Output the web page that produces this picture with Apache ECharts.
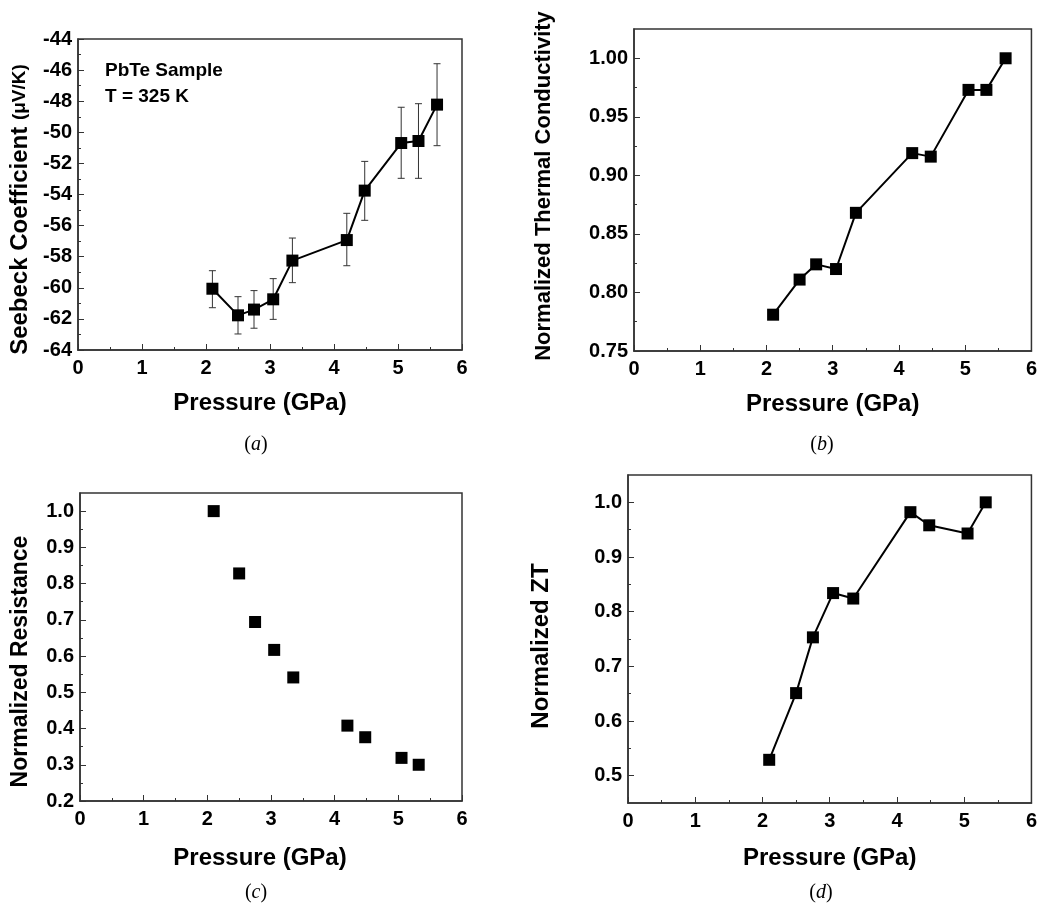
<!DOCTYPE html>
<html>
<head>
<meta charset="utf-8">
<script src="https://cdn.jsdelivr.net/npm/echarts@6/dist/echarts.min.js"></script>
<style>
html, body { margin: 0; background: #fff; }
#main { width: 1040px; height: 904px; }
</style>
</head>
<body>
<div id="main"></div>
<script>
// pressure in GPa, shared by all four panels (c and d stop at 5.32)
var pressure = [2.1, 2.5, 2.75, 3.05, 3.35, 4.2, 4.48, 5.05, 5.32, 5.61]

// (a) Seebeck coefficient with error bars
var seebeck = [-60.06, -61.77, -61.4, -60.74, -58.25, -56.93, -53.75, -50.69, -50.56, -48.22]
var seebeckLow = [-61.28, -62.97, -62.6, -62.03, -59.67, -58.58, -55.66, -52.96, -52.96, -50.86]
var seebeckHigh = [-58.9, -60.57, -60.18, -59.41, -56.8, -55.21, -51.87, -48.39, -48.16, -45.59]

// (b) normalized thermal conductivity
var thermal = [0.781, 0.811, 0.824, 0.820, 0.868, 0.919, 0.916, 0.973, 0.973, 1.0]

// (c) normalized resistance
var resistance = [1.0, 0.828, 0.694, 0.617, 0.541, 0.408, 0.376, 0.319, 0.300]

// (d) normalized ZT
var zt = [0.529, 0.651, 0.753, 0.834, 0.824, 0.982, 0.958, 0.943, 1.0]

// tick values
var thermalTicks = [0.75, 0.80, 0.85, 0.90, 0.95, 1.00]
var thermalMinor = [0.775, 0.825, 0.875, 0.925, 0.975]
var resistanceTicks = [0.2, 0.3, 0.4, 0.5, 0.6, 0.7, 0.8, 0.9, 1.0]
var resistanceMinor = [0.25, 0.35, 0.45, 0.55, 0.65, 0.75, 0.85, 0.95]
var ztTicks = [0.5, 0.6, 0.7, 0.8, 0.9, 1.0]
var ztMinor = [0.55, 0.65, 0.75, 0.85, 0.95]

var font = '"Liberation Sans", Arial, sans-serif'
var axisColor = '#333'

function pts (ys) {
  return ys.map(function (y, i) { return [pressure[i], y] })
}

function xAx (grid, gap, pad) {
  return {
    gridIndex: grid, type: 'value', min: 0, max: 6, interval: 1,
    name: 'Pressure (GPa)', nameLocation: 'middle', nameGap: gap,
    nameTextStyle: { fontSize: 24, fontWeight: 'bold', color: '#000', fontFamily: font, padding: pad },
    axisLine: { show: true, lineStyle: { color: axisColor, width: 1.5 } },
    axisTick: { inside: true, length: 6, lineStyle: { color: axisColor } },
    minorTick: { show: true, splitNumber: 2, length: 3, lineStyle: { color: axisColor } },
    axisLabel: { fontSize: 20, fontWeight: 'bold', color: '#000', margin: 8, fontFamily: font },
    splitLine: { show: false }
  }
}

function yAx (grid, min, max, ticks, digits, name, size, gap, pad) {
  return {
    gridIndex: grid, type: 'value', position: 'left', min: min, max: max,
    name: name, nameLocation: 'middle', nameGap: gap,
    nameTextStyle: { fontSize: size, fontWeight: 'bold', color: '#000', fontFamily: font, padding: pad },
    axisLine: { show: true, lineStyle: { color: axisColor, width: 1.5 } },
    axisTick: { inside: true, length: 6, customValues: ticks, lineStyle: { color: axisColor } },
    axisLabel: {
      customValues: ticks, fontSize: 20, fontWeight: 'bold', color: '#000', margin: 6, fontFamily: font,
      formatter: function (v) { return v.toFixed(digits) }
    },
    splitLine: { show: false }
  }
}

function yMinor (grid, min, max, minor) {
  return {
    gridIndex: grid, type: 'value', position: 'left', min: min, max: max,
    axisLine: { show: false },
    axisTick: { inside: true, length: 3, customValues: minor, lineStyle: { color: axisColor } },
    axisLabel: { show: false },
    splitLine: { show: false }
  }
}

function grid (left, top, width, height) {
  return { left: left, top: top, width: width, height: height, show: true, borderColor: axisColor, borderWidth: 1.5, backgroundColor: 'transparent' }
}

function lineSeries (xi, yi, data, withLine) {
  return {
    type: withLine ? 'line' : 'scatter', xAxisIndex: xi, yAxisIndex: yi, data: data,
    symbol: 'rect', symbolSize: 12, z: 3,
    itemStyle: { color: '#000', opacity: 1 },
    lineStyle: { color: '#000', width: 2 }
  }
}

function panelLabel (letter, x, y) {
  return {
    type: 'text', x: x, y: y,
    style: {
      text: '({i|' + letter + '})', fill: '#000', fontFamily: '"Liberation Serif", serif', fontSize: 20,
      align: 'center', verticalAlign: 'middle',
      rich: { i: { fontStyle: 'italic', fontFamily: '"Liberation Serif", serif', fontSize: 20 } }
    }
  }
}

var myChart = echarts.init(document.getElementById('main'))

var option = {
  animation: false,
  backgroundColor: '#fff',
  grid: [
    grid(78, 39, 384, 311),
    grid(634, 29, 401, 322),
    grid(80, 493, 382, 308),
    grid(628, 475, 407, 328)
  ],
  xAxis: [
    xAx(0, 41, [0, 20, 0, 0]),
    xAx(1, 41, [0, 0, 0, 0]),
    xAx(2, 45, [0, 22, 0, 0]),
    xAx(3, 43, [0, 0, 0, 0])
  ],
  yAxis: [
    {
      gridIndex: 0, type: 'value', position: 'left', min: -64, max: -44, interval: 2,
      name: '{t|Seebeck Coefficient }{u|(μV/K)}', nameLocation: 'middle', nameGap: 46,
      nameTextStyle: {
        padding: [0, 30, 0, 0],
        rich: {
          t: { fontSize: 24, fontWeight: 'bold', color: '#000', fontFamily: font },
          u: { fontSize: 19, fontWeight: 'bold', color: '#000', fontFamily: font }
        }
      },
      axisLine: { show: true, lineStyle: { color: axisColor, width: 1.5 } },
      axisTick: { inside: true, length: 6, lineStyle: { color: axisColor } },
      minorTick: { show: true, splitNumber: 2, length: 3, lineStyle: { color: axisColor } },
      axisLabel: { fontSize: 20, fontWeight: 'bold', color: '#000', margin: 6, fontFamily: font },
      splitLine: { show: false }
    },
    yAx(1, 0.75, 1.025, thermalTicks, 2, 'Normalized Thermal Conductivity', 22, 79, [0, 0, 0, 8]),
    yAx(2, 0.2, 1.05, resistanceTicks, 1, 'Normalized Resistance', 23, 48, [0, 29, 0, 0]),
    yAx(3, 0.45, 1.05, ztTicks, 1, 'Normalized ZT', 24, 75, [0, 14, 0, 0]),
    yMinor(1, 0.75, 1.025, thermalMinor),
    yMinor(2, 0.2, 1.05, resistanceMinor),
    yMinor(3, 0.45, 1.05, ztMinor)
  ],
  graphic: [
    { type: 'text', x: 105, y: 71, style: { text: 'PbTe Sample', font: 'bold 19px ' + font, fill: '#000', verticalAlign: 'middle' } },
    { type: 'text', x: 105, y: 97, style: { text: 'T = 325 K', font: 'bold 19px ' + font, fill: '#000', verticalAlign: 'middle' } },
    panelLabel('a', 256, 445),
    panelLabel('b', 822, 445),
    panelLabel('c', 256, 893),
    panelLabel('d', 821, 893)
  ],
  series: [
    {
      type: 'custom', xAxisIndex: 0, yAxisIndex: 0, z: 2,
      data: pressure.map(function (p, i) { return [p, seebeckLow[i], seebeckHigh[i]] }),
      encode: { x: 0, y: [1, 2] },
      renderItem: function (params, api) {
        var x = api.value(0)
        var lo = api.coord([x, api.value(1)])
        var hi = api.coord([x, api.value(2)])
        var w = 3.5
        var st = { stroke: '#333', lineWidth: 1 }
        return {
          type: 'group',
          children: [
            { type: 'line', shape: { x1: lo[0], y1: lo[1], x2: hi[0], y2: hi[1] }, style: st },
            { type: 'line', shape: { x1: lo[0] - w, y1: lo[1], x2: lo[0] + w, y2: lo[1] }, style: st },
            { type: 'line', shape: { x1: hi[0] - w, y1: hi[1], x2: hi[0] + w, y2: hi[1] }, style: st }
          ]
        }
      }
    },
    lineSeries(0, 0, pts(seebeck), true),
    lineSeries(1, 1, pts(thermal), true),
    lineSeries(2, 2, pts(resistance), false),
    lineSeries(3, 3, pts(zt), true)
  ]
}

myChart.setOption(option)
</script>
</body>
</html>
